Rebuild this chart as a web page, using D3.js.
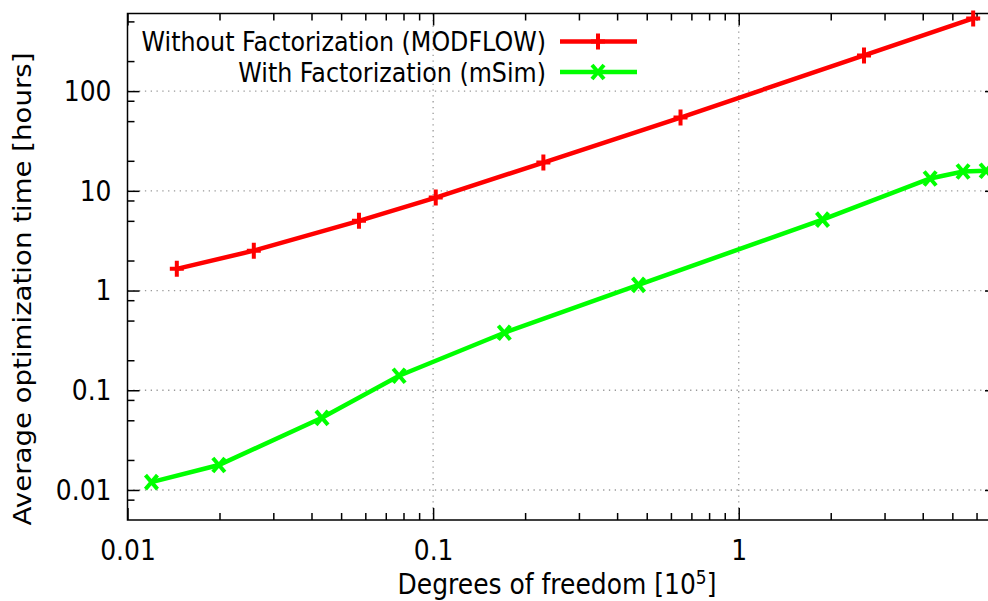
<!DOCTYPE html>
<html lang="en">
  <head>
    <meta charset="UTF-8" />
    <script src="https://d3js.org/d3.v7.min.js"></script>
    <style>
      body { margin: 0; background: #fff; }
      svg text { font-family: "DejaVu Sans", sans-serif; font-size: 24px; fill: #000; }
      .axis path { stroke: none; }
      .axis line { stroke: #000; stroke-width: 1.5; }
      .grid line { stroke: #999; stroke-width: 1.3; stroke-dasharray: 1.3,4.5; }
    </style>
  </head>
  <body>
    <svg id="chart" width="988" height="601"></svg>
    <script>
      // data (x in 10^5 dof, y in hours)
      const dofWithout = [0.0145, 0.0259, 0.0572, 0.102, 0.2295, 0.645, 2.57, 5.85];
      const hoursWithout = [1.65, 2.51, 5.0, 8.55, 19.2, 54.3, 228, 536];
      const dofWith = [0.01198, 0.0199, 0.0433, 0.0774, 0.171, 0.47, 1.88, 4.23, 5.42, 6.45];
      const hoursWith = [0.012, 0.0178, 0.0529, 0.14, 0.377, 1.14, 5.14, 13.3, 15.6, 15.9];

      const xTicks = [0.01, 0.1, 1];
      const xTickLabels = ["0.01", "0.1", "1"];
      const yTicks = [0.01, 0.1, 1, 10, 100];
      const yTickLabels = ["0.01", "0.1", "1", "10", "100"];
      const xMinor = [0.02, 0.03, 0.04, 0.05, 0.06, 0.07, 0.08, 0.09,
                      0.2, 0.3, 0.4, 0.5, 0.6, 0.7, 0.8, 0.9,
                      2, 3, 4, 5, 6];
      const yMinor = [0.008, 0.02, 0.05, 0.08, 0.2, 0.5, 0.8, 2, 5, 8, 20, 50, 80, 200, 500];

      const seriesNames = ["Without Factorization (MODFLOW)", "With Factorization (mSim)"];

      const svg = d3.select("#chart");
      const mLeft = 127.5, mRight = 997, mTop = 13.5, mBottom = 520;
      const stretch = 1.15; // the source picture is a bit taller than wide

      const x = d3.scaleLog().domain([0.01, 7]).range([mLeft, mRight]);
      const y = d3.scaleLog().domain([0.005, 600]).range([mBottom, mTop]);

      // grid
      svg.append("g").attr("class", "grid")
        .selectAll("line").data(xTicks.slice(1)).join("line")
        .attr("x1", d => x(d)).attr("x2", d => x(d))
        .attr("y1", mBottom).attr("y2", mTop);
      svg.append("g").attr("class", "grid")
        .selectAll("line").data(yTicks).join("line")
        .attr("x1", mLeft).attr("x2", mRight)
        .attr("y1", d => y(d)).attr("y2", d => y(d));

      // major axes with labels (ticks pointing inward)
      const xAxisG = svg.append("g").attr("class", "axis")
        .attr("transform", `translate(0,${mBottom})`)
        .call(d3.axisBottom(x).tickValues(xTicks).tickSize(-12).tickPadding(17)
          .tickFormat((d, i) => xTickLabels[i]));
      const yAxisG = svg.append("g").attr("class", "axis")
        .attr("transform", `translate(${mLeft},0)`)
        .call(d3.axisLeft(y).tickValues(yTicks).tickSize(-12).tickPadding(16)
          .tickFormat((d, i) => yTickLabels[i]));
      xAxisG.selectAll("text").style("font-size", "25px").style("font-family", "DejaVu Sans")
        .attr("transform", `scale(1,${stretch})`);
      yAxisG.selectAll("text").style("font-size", "25px").style("font-family", "DejaVu Sans")
        .attr("transform", `scale(1,${stretch})`);

      // mirrored major ticks
      svg.append("g").attr("class", "axis")
        .attr("transform", `translate(0,${mTop})`)
        .call(d3.axisTop(x).tickValues(xTicks).tickSize(-12).tickFormat(""));
      svg.append("g").attr("class", "axis")
        .attr("transform", `translate(${mRight},0)`)
        .call(d3.axisRight(y).tickValues(yTicks).tickSize(-12).tickFormat(""));

      // minor ticks
      svg.append("g").attr("class", "axis")
        .attr("transform", `translate(0,${mBottom})`)
        .call(d3.axisBottom(x).tickValues(xMinor).tickSize(-7).tickFormat(""));
      svg.append("g").attr("class", "axis")
        .attr("transform", `translate(0,${mTop})`)
        .call(d3.axisTop(x).tickValues(xMinor).tickSize(-7).tickFormat(""));
      svg.append("g").attr("class", "axis")
        .attr("transform", `translate(${mLeft},0)`)
        .call(d3.axisLeft(y).tickValues(yMinor).tickSize(-7).tickFormat(""));
      svg.append("g").attr("class", "axis")
        .attr("transform", `translate(${mRight},0)`)
        .call(d3.axisRight(y).tickValues(yMinor).tickSize(-7).tickFormat(""));

      // border
      svg.append("rect")
        .attr("x", mLeft).attr("y", mTop)
        .attr("width", mRight - mLeft).attr("height", mBottom - mTop)
        .attr("fill", "none").attr("stroke", "#000").attr("stroke-width", 1.5);

      // axis titles
      const xt = svg.append("text")
        .attr("transform", `translate(557,594) scale(1,${stretch})`)
        .attr("text-anchor", "middle")
        .style("font-size", "25px")
        .text("Degrees of freedom [10");
      xt.append("tspan").attr("dy", -9).style("font-size", "17px").text("5");
      xt.append("tspan").attr("dy", 9).text("]");

      svg.append("text")
        .attr("transform", `translate(31,289) rotate(-90) scale(${stretch},1)`)
        .attr("text-anchor", "middle")
        .style("font-size", "24px")
        .text("Average optimization time [hours]");

      // series
      const line = d3.line().x(d => x(d[0])).y(d => y(d[1]));
      const red = "#ff0000", green = "#00ff00";
      const ptsWithout = dofWithout.map((d, i) => [d, hoursWithout[i]]);
      const ptsWith = dofWith.map((d, i) => [d, hoursWith[i]]);

      const plus = g => g.append("path").attr("d", "M-7,0H7M0,-8V8")
        .attr("stroke", red).attr("stroke-width", 4).attr("fill", "none");
      const cross = g => g.append("path").attr("d", "M-6,-7L6,7M-6,7L6,-7")
        .attr("stroke", green).attr("stroke-width", 4).attr("fill", "none");

      svg.append("path").datum(ptsWith).attr("d", line)
        .attr("fill", "none").attr("stroke", green).attr("stroke-width", 4.5);
      svg.append("g").selectAll("g").data(ptsWith).join("g")
        .attr("transform", d => `translate(${x(d[0])},${y(d[1])})`).call(cross);

      svg.append("path").datum(ptsWithout).attr("d", line)
        .attr("fill", "none").attr("stroke", red).attr("stroke-width", 4.5);
      svg.append("g").selectAll("g").data(ptsWithout).join("g")
        .attr("transform", d => `translate(${x(d[0])},${y(d[1])})`).call(plus);

      // legend
      const legendY = [41.5, 72];
      const legendColors = [red, green];
      const legendMarks = [plus, cross];
      seriesNames.forEach((name, i) => {
        const g = svg.append("g").attr("transform", `translate(0,${legendY[i]})`);
        g.append("text").attr("transform", `translate(546,0) scale(1,${stretch})`)
          .attr("dy", "0.36em").attr("text-anchor", "end")
          .style("font-size", "23.8px").text(name);
        g.append("line").attr("x1", 560).attr("x2", 637)
          .attr("stroke", legendColors[i]).attr("stroke-width", 4.5);
        g.append("g").attr("transform", "translate(598,0)").call(legendMarks[i]);
      });
    </script>
  </body>
</html>
